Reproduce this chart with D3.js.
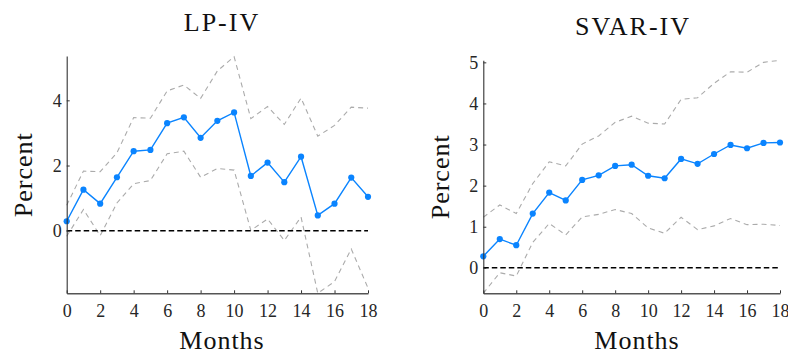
<!DOCTYPE html>
<html>
<head>
<meta charset="utf-8">
<script src="https://cdn.jsdelivr.net/npm/d3@7"></script>
<style>
  body { margin: 0; background: #fff; }
  svg text { font-family: "Liberation Serif", "DejaVu Serif", serif; }
</style>
</head>
<body>
<div id="chart"></div>
<script>

var months = d3.range(0, 19)

var xTicks = [0, 2, 4, 6, 8, 10, 12, 14, 16, 18]

// LP-IV
var lpIrf = [0.29, 1.26, 0.83, 1.64, 2.44, 2.48, 3.30, 3.48, 2.85, 3.37, 3.63, 1.68, 2.09, 1.49, 2.27, 0.47, 0.83, 1.63, 1.04]
var lpUpper = [0.78, 1.83, 1.81, 2.39, 3.47, 3.45, 4.29, 4.47, 4.06, 4.90, 5.34, 3.44, 3.81, 3.26, 4.07, 2.90, 3.23, 3.79, 3.76]
var lpLower = [-0.17, 0.65, -0.15, 0.85, 1.44, 1.54, 2.36, 2.44, 1.64, 1.91, 1.86, 0.01, 0.36, -0.30, 0.42, -1.92, -1.56, -0.56, -1.76]
var lpYTicks = [0, 2, 4]

// SVAR-IV
var svarIrf = [0.28, 0.70, 0.55, 1.32, 1.83, 1.64, 2.14, 2.25, 2.48, 2.51, 2.24, 2.18, 2.65, 2.53, 2.77, 2.99, 2.91, 3.04, 3.05]
var svarUpper = [1.23, 1.53, 1.32, 2.05, 2.58, 2.48, 3.01, 3.21, 3.54, 3.69, 3.52, 3.50, 4.10, 4.14, 4.49, 4.77, 4.76, 5.00, 5.05]
var svarLower = [-0.62, -0.12, -0.20, 0.62, 1.08, 0.80, 1.24, 1.30, 1.42, 1.32, 0.97, 0.84, 1.23, 0.93, 1.02, 1.20, 1.05, 1.06, 1.03]
var svarYTicks = [0, 1, 2, 3, 4, 5]

var width = 788
var height = 353

var svg = d3.select("#chart").append("svg")
    .attr("width", width)
    .attr("height", height)

var panels = [
    { title: "LP-IV", irf: lpIrf, upper: lpUpper, lower: lpLower, yTicks: lpYTicks,
      yDomain: [-1.92, 5.36], x0: 66.7, x1: 368, y0: 293.3, y1: 56,
      titleX: 222, titleY: 30.5, ylabX: 32, monthsX: 222 },
    { title: "SVAR-IV", irf: svarIrf, upper: svarUpper, lower: svarLower, yTicks: svarYTicks,
      yDomain: [-0.62, 5.05], x0: 483.3, x1: 780, y0: 293.3, y1: 60.3,
      titleX: 633, titleY: 35, ylabX: 449, monthsX: 637 }
]

panels.forEach(function(p) {

    var x = d3.scaleLinear().domain([0, 18]).range([p.x0, p.x1])
    var y = d3.scaleLinear().domain(p.yDomain).range([p.y0, p.y1])

    var line = d3.line()
        .x(function(d, i) { return x(months[i]) })
        .y(function(d) { return y(d) })

    var g = svg.append("g")

    // bands
    ;[p.upper, p.lower].forEach(function(band) {
        g.append("path")
            .datum(band)
            .attr("d", line)
            .style("fill", "none")
            .style("stroke", "#ababab")
            .style("stroke-width", 1.1)
            .style("stroke-dasharray", "5,4")
    })

    // zero line
    g.append("line")
        .attr("x1", x(0))
        .attr("x2", x(18))
        .attr("y1", y(0))
        .attr("y2", y(0))
        .style("stroke", "#000")
        .style("stroke-width", 1.6)
        .style("stroke-dasharray", "5.5,3")

    // irf
    g.append("path")
        .datum(p.irf)
        .attr("d", line)
        .style("fill", "none")
        .style("stroke", "#0a84ff")
        .style("stroke-width", 1.4)

    g.selectAll(".dot")
        .data(p.irf)
        .enter()
        .append("circle")
        .attr("cx", function(d, i) { return x(months[i]) })
        .attr("cy", function(d) { return y(d) })
        .attr("r", 3.1)
        .style("fill", "#0a84ff")

    // axes
    var xAxis = g.append("g")
        .attr("transform", "translate(0," + p.y0 + ")")
        .call(d3.axisBottom(x).tickValues(xTicks).tickFormat(d3.format("d"))
            .tickSizeInner(-3).tickSizeOuter(0).tickPadding(11))

    xAxis.select(".domain").style("stroke", "#555").style("stroke-width", 1.4)

    var yAxis = g.append("g")
        .attr("transform", "translate(" + p.x0 + ",0)")
        .call(d3.axisLeft(y).tickValues(p.yTicks).tickFormat(d3.format("d"))
            .tickSizeInner(-3).tickSizeOuter(0).tickPadding(5))

    yAxis.select(".domain").style("stroke", "#333").style("stroke-width", 1.1)

    g.selectAll(".tick line").style("stroke", "#333")

    xAxis.attr("font-family", null).attr("font-size", null)
    yAxis.attr("font-family", null).attr("font-size", null)

    g.selectAll(".tick text")
        .style("font-family", "'Liberation Serif', serif")
        .style("font-size", "18px")
        .style("fill", "#262626")

    // labels
    svg.append("text")
        .attr("x", p.titleX)
        .attr("y", p.titleY)
        .attr("text-anchor", "middle")
        .style("font-size", "26px")
        .style("letter-spacing", "2px")
        .style("fill", "#111")
        .text(p.title)

    svg.append("text")
        .attr("transform", "translate(" + p.ylabX + "," + ((p.y0 + p.y1) / 2) + ") rotate(-90)")
        .attr("text-anchor", "middle")
        .style("font-size", "26px")
        .style("letter-spacing", "1px")
        .style("fill", "#111")
        .text("Percent")

    svg.append("text")
        .attr("x", p.monthsX)
        .attr("y", 349)
        .attr("text-anchor", "middle")
        .style("font-size", "26px")
        .style("letter-spacing", "1px")
        .style("fill", "#111")
        .text("Months")

})

</script>
</body>
</html>
